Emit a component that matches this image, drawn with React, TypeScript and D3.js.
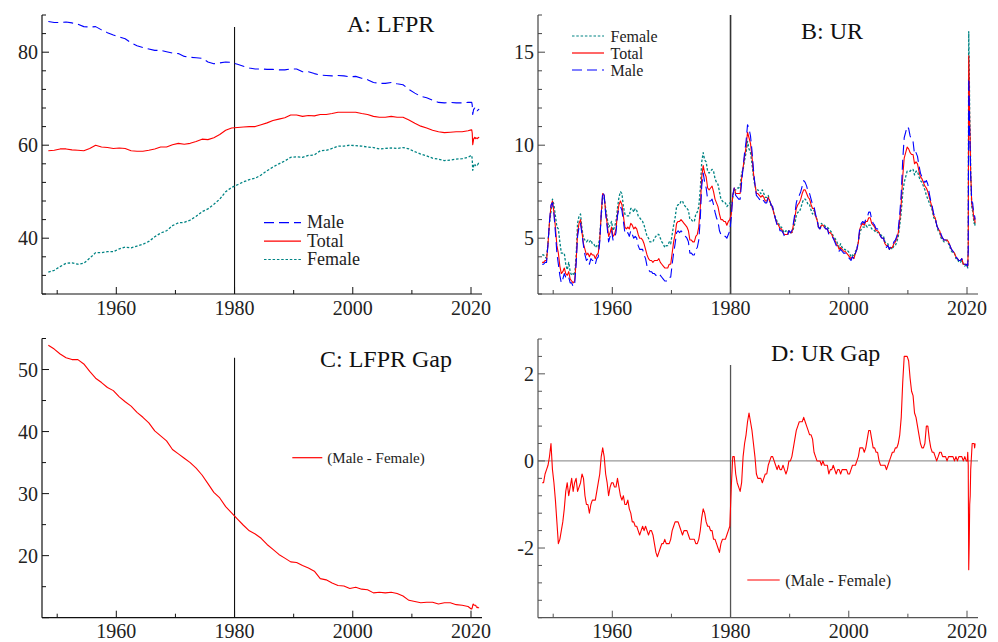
import React from 'react';
import * as d3 from 'd3';

// ---------- DATA ----------
// Unemployment rate, quarterly averages 1948Q1..2019Q4
const urTotalQ = [
  3.7,3.7,3.8,3.8, 4.7,5.9,6.7,7.0, 6.4,5.6,4.6,4.2, 3.5,3.1,3.2,3.4, 3.1,3.0,3.2,2.8,
  2.7,2.6,2.7,3.7, 5.3,5.8,6.0,5.3, 4.7,4.4,4.1,4.2, 4.0,4.2,4.1,4.1, 3.9,4.1,4.2,4.9,
  6.3,7.4,7.3,6.4, 5.8,5.1,5.3,5.6, 5.1,5.2,5.5,6.3, 6.8,7.0,6.8,6.2, 5.6,5.5,5.6,5.5,
  5.8,5.7,5.5,5.6, 5.5,5.2,5.0,5.0, 4.9,4.7,4.4,4.1, 3.9,3.8,3.8,3.7, 3.8,3.8,3.8,3.9,
  3.7,3.6,3.5,3.4, 3.4,3.4,3.6,3.6, 4.2,4.8,5.2,5.8, 5.9,5.9,6.0,5.9, 5.8,5.7,5.6,5.4,
  4.9,4.9,4.8,4.8, 5.1,5.2,5.6,6.6, 8.3,8.9,8.5,8.3, 7.7,7.6,7.7,7.8, 7.5,7.1,6.9,6.7,
  6.3,6.0,6.0,5.9, 5.9,5.7,5.9,6.0, 6.3,7.3,7.7,7.4, 7.4,7.4,7.4,8.2, 8.8,9.4,9.9,10.7,
  10.4,10.1,9.4,8.5, 7.9,7.4,7.4,7.3, 7.2,7.3,7.2,7.0, 7.0,7.2,7.0,6.8, 6.6,6.3,6.0,5.8,
  5.7,5.5,5.5,5.3, 5.2,5.2,5.2,5.4, 5.3,5.3,5.7,6.1, 6.6,6.8,6.9,7.1, 7.4,7.6,7.6,7.4,
  7.2,7.1,6.8,6.6, 6.6,6.2,6.0,5.6, 5.5,5.7,5.7,5.6, 5.5,5.5,5.3,5.3, 5.2,5.0,4.9,4.7,
  4.6,4.4,4.5,4.4, 4.3,4.3,4.2,4.1, 4.0,3.9,4.0,3.9, 4.2,4.4,4.8,5.5, 5.7,5.8,5.7,5.9,
  5.9,6.1,6.1,5.8, 5.7,5.6,5.4,5.4, 5.3,5.1,5.0,5.0, 4.7,4.6,4.6,4.4, 4.5,4.5,4.7,4.8,
  5.0,5.3,6.0,6.9, 8.3,9.3,9.6,9.9, 9.8,9.6,9.5,9.5, 9.0,9.1,9.0,8.6, 8.3,8.2,8.0,7.8,
  7.7,7.5,7.2,6.9, 6.6,6.2,6.1,5.7, 5.5,5.4,5.1,5.0, 4.9,4.9,4.9,4.8, 4.6,4.4,4.3,4.2,
  4.0,3.9,3.8,3.8, 3.9,3.6,3.6,3.6,
];
const urMaleQ = [
  3.6,3.6,3.7,3.7, 4.7,5.9,6.8,6.9, 6.3,5.3,4.2,3.6, 3.0,2.6,2.8,3.1, 2.9,2.8,2.9,2.6,
  2.6,2.4,2.5,3.6, 5.1,5.6,5.8,5.2, 4.6,4.1,3.8,3.9, 3.6,3.9,3.8,3.8, 3.6,3.9,4.0,4.8,
  6.3,7.5,7.3,6.3, 5.6,4.8,5.1,5.4, 4.9,5.0,5.3,6.2, 6.6,6.7,6.5,5.9, 5.3,5.2,5.3,5.1,
  5.4,5.2,5.0,5.1, 5.0,4.6,4.4,4.4, 4.4,4.1,3.9,3.5, 3.3,3.2,3.2,3.1, 3.1,3.0,3.0,3.1,
  3.0,2.9,2.8,2.7, 2.7,2.7,2.9,2.9, 3.6,4.2,4.7,5.3, 5.4,5.3,5.4,5.3, 5.2,5.1,5.0,4.8,
  4.2,4.2,4.1,4.1, 4.4,4.5,4.9,6.0, 7.8,8.5,8.0,7.7, 7.1,7.0,7.0,7.1, 6.8,6.4,6.1,5.9,
  5.4,5.2,5.2,5.1, 5.1,5.0,5.2,5.4, 6.1,7.3,7.7,7.3, 7.2,7.1,7.1,8.0, 8.8,9.6,10.2,11.1,
  10.9,10.5,9.7,8.7, 7.9,7.3,7.2,7.1, 7.0,7.1,7.0,6.9, 6.9,7.2,7.0,6.8, 6.7,6.3,6.0,5.7,
  5.7,5.4,5.4,5.3, 5.1,5.1,5.1,5.4, 5.3,5.4,5.8,6.3, 6.9,7.2,7.3,7.5, 7.8,8.1,8.0,7.8,
  7.5,7.4,7.1,6.8, 6.7,6.3,6.0,5.6, 5.5,5.7,5.7,5.6, 5.5,5.5,5.2,5.2, 5.1,5.0,4.8,4.6,
  4.5,4.3,4.4,4.3, 4.2,4.2,4.1,4.0, 3.9,3.8,4.0,3.9, 4.2,4.4,4.9,5.6, 5.8,5.9,5.8,6.0,
  6.1,6.4,6.4,6.0, 5.8,5.7,5.5,5.5, 5.3,5.1,5.0,5.0, 4.7,4.5,4.6,4.4, 4.6,4.6,4.8,4.9,
  5.1,5.5,6.3,7.4, 9.2,10.4,10.7,11.0, 10.9,10.5,10.3,10.2, 9.5,9.6,9.4,8.9, 8.5,8.3,8.1,8.0,
  8.1,7.9,7.4,7.0, 6.7,6.3,6.1,5.7, 5.5,5.5,5.2,5.0, 4.9,4.9,4.9,4.8, 4.6,4.4,4.3,4.2,
  4.0,3.9,3.8,3.8, 3.9,3.6,3.6,3.6,
];
const urFemaleQ = [
  4.1,4.1,4.0,3.9, 4.8,5.8,6.4,7.1, 6.8,6.2,5.6,5.5, 4.8,4.2,4.2,4.2, 3.6,3.3,3.7,3.2,
  3.0,3.1,3.0,4.0, 5.8,6.2,6.3,5.5, 5.0,4.9,4.8,4.9, 4.8,4.9,4.7,4.7, 4.5,4.6,4.5,5.1,
  6.2,7.2,7.2,6.6, 6.1,5.6,5.7,5.9, 5.4,5.6,5.9,6.6, 7.2,7.5,7.4,6.7, 6.3,6.2,6.2,6.2,
  6.6,6.6,6.4,6.6, 6.5,6.2,6.1,6.0, 5.9,5.7,5.4,5.1, 5.0,4.8,4.8,4.8, 5.0,5.1,5.2,5.2,
  5.0,4.8,4.7,4.5, 4.6,4.6,4.8,4.7, 5.2,5.7,6.1,6.7, 6.8,6.8,7.0,7.0, 6.8,6.7,6.6,6.5,
  6.0,6.0,5.9,5.9, 6.3,6.4,6.7,7.6, 9.1,9.6,9.2,9.1, 8.6,8.5,8.6,8.7, 8.6,8.2,8.0,7.9,
  7.5,7.1,7.0,6.9, 6.9,6.7,6.8,6.9, 6.7,7.2,7.6,7.6, 7.7,7.7,7.8,8.5, 8.7,9.2,9.6,10.2,
  9.8,9.6,9.0,8.3, 7.8,7.6,7.6,7.5, 7.4,7.6,7.4,7.2, 7.2,7.3,7.0,6.7, 6.6,6.3,6.1,5.9,
  5.8,5.6,5.6,5.4, 5.3,5.4,5.3,5.4, 5.3,5.3,5.5,5.8, 6.2,6.4,6.4,6.6, 6.9,7.1,7.1,7.0,
  6.8,6.8,6.5,6.3, 6.5,6.2,6.0,5.6, 5.5,5.8,5.7,5.7, 5.6,5.6,5.5,5.4, 5.3,5.1,5.0,4.9,
  4.7,4.5,4.7,4.5, 4.4,4.4,4.3,4.3, 4.2,4.0,4.1,4.0, 4.3,4.4,4.8,5.3, 5.5,5.6,5.6,5.7,
  5.6,5.7,5.7,5.5, 5.5,5.4,5.3,5.3, 5.3,5.2,5.1,5.1, 4.8,4.7,4.7,4.4, 4.5,4.4,4.6,4.6,
  4.8,5.1,5.7,6.4, 7.4,8.0,8.3,8.6, 8.6,8.6,8.7,8.7, 8.4,8.6,8.6,8.3, 8.1,8.0,7.8,7.6,
  7.3,7.1,6.9,6.7, 6.5,6.1,6.0,5.7, 5.4,5.3,5.0,4.9, 4.8,4.8,4.9,4.7, 4.5,4.3,4.2,4.2,
  3.9,3.9,3.7,3.7, 3.8,3.6,3.5,3.6,
];
// Unemployment rate, monthly Jan 2020..May 2021
const urTotalM = [3.5,3.5,4.4,14.8,13.3,11.1,10.2,8.4,7.8,6.9,6.7,6.7,6.4,6.2,6.0,6.1,5.8];
const urMaleM = [3.5,3.6,4.3,13.6,12.4,10.6,9.8,8.3,7.8,7.0,6.9,6.9,6.6,6.4,6.2,6.2,6.0];
const urFemaleM = [3.5,3.4,4.4,16.1,14.3,11.6,10.6,8.5,7.8,6.8,6.5,6.5,6.2,6.0,5.8,5.9,5.6];

// Labor force participation rate, annual averages 1948..2019
const lfprMaleA = [
  86.6,86.4,86.4,86.5,86.3,86.0,85.5,85.4,85.5,84.8,
  84.2,83.7,83.3,82.9,82.0,81.4,81.0,80.7,80.4,80.4,
  80.1,79.8,79.7,79.1,78.9,78.8,78.7,77.9,77.5,77.7,
  77.9,77.8,77.4,77.0,76.6,76.4,76.4,76.3,76.3,76.2,
  76.2,76.4,76.4,75.8,75.8,75.4,75.1,75.0,74.9,75.0,
  74.9,74.7,74.8,74.4,74.1,73.5,73.3,73.3,73.5,73.2,
  73.0,72.0,71.2,70.5,70.2,69.7,69.2,69.1,69.2,69.1,
  69.1,69.2,
];
const lfprFemaleA = [
  32.7,33.1,33.9,34.6,34.7,34.4,34.6,35.7,36.9,36.9,
  37.1,37.1,37.7,38.1,37.9,38.3,38.7,39.3,40.3,41.1,
  41.6,42.7,43.3,43.4,43.9,44.7,45.7,46.3,47.3,48.4,
  50.0,50.9,51.5,52.1,52.6,52.9,53.6,54.5,55.3,56.0,
  56.6,57.4,57.5,57.4,57.8,57.9,58.8,58.9,59.3,59.8,
  59.8,60.0,59.9,59.8,59.6,59.5,59.2,59.3,59.4,59.3,
  59.5,59.2,58.6,58.1,57.7,57.2,57.0,56.7,56.8,57.0,
  57.1,57.4,
];
const lfprTotalA = [
  58.8,58.9,59.2,59.2,59.0,58.9,58.8,59.3,60.0,59.6,
  59.5,59.3,59.4,59.3,58.8,58.7,58.7,58.9,59.2,59.6,
  59.6,60.1,60.4,60.2,60.4,60.8,61.3,61.2,61.6,62.3,
  63.2,63.7,63.8,63.9,64.0,64.0,64.4,64.8,65.3,65.6,
  65.9,66.5,66.5,66.2,66.4,66.3,66.6,66.6,66.8,67.1,
  67.1,67.1,67.1,66.8,66.6,66.2,66.0,66.0,66.2,66.0,
  66.0,65.4,64.7,64.1,63.7,63.2,62.9,62.7,62.8,62.9,
  62.9,63.1,
];
// LFPR monthly Jan 2020..May 2021
const lfprMaleM = [69.2,69.2,68.6,66.6,67.2,67.8,67.8,68.0,67.6,67.8,67.6,67.6,67.4,67.5,67.6,67.7,67.6];
const lfprFemaleM = [57.8,57.8,57.0,54.6,55.0,55.7,55.8,56.0,55.6,55.8,55.8,55.9,55.8,55.8,56.0,56.1,56.0];
const lfprTotalM = [63.3,63.3,62.6,60.1,60.7,61.4,61.5,61.7,61.4,61.6,61.5,61.5,61.4,61.5,61.6,61.7,61.6];

const startYear = 1948;
const monthlyStartYear = 2020;
const breakYear = 1980;
const xMajorTicks = [1960, 1980, 2000, 2020];
const xMinorTicks = [1950, 1970, 1990, 2010];

// ---------- derived series ----------
const urDates = urTotalQ.map((_, i) => startYear + i * 0.25 + 0.125)
  .concat(urTotalM.map((_, j) => monthlyStartYear + (j + 0.5) / 12));
const lfprDates = lfprTotalA.map((_, i) => startYear + i + 0.5)
  .concat(lfprTotalM.map((_, j) => monthlyStartYear + (j + 0.5) / 12));

const urTotal = urTotalQ.concat(urTotalM);
const urMale = urMaleQ.concat(urMaleM);
const urFemale = urFemaleQ.concat(urFemaleM);
const lfprTotal = lfprTotalA.concat(lfprTotalM);
const lfprMale = lfprMaleA.concat(lfprMaleM);
const lfprFemale = lfprFemaleA.concat(lfprFemaleM);
const lfprGap = lfprMale.map((v, i) => v - lfprFemale[i]);
const urGap = urMale.map((v, i) => v - urFemale[i]);

const zip = (dates: number[], vals: number[]) => dates.map((d, i) => [d, vals[i]] as [number, number]);

const FONT = "'Liberation Serif', 'Times New Roman', serif";
const BLUE = '#0000ff';
const RED = '#ff0000';
const TEAL = '#008484';
const MALE_DASH = '10,5';
const FEMALE_DASH = '2.5,1.8';

type Line = { data: [number, number][]; color: string; dash?: string; width?: number };
type PanelCfg = {
  x0: number; x1: number; yTop: number; yBot: number;
  domain: [number, number]; minorStep: number; majorStep: number;
  labels: number[]; labelX: number; xLabelY: number;
  axisColor: string; vTop: number; vColor: string; vWidth: number;
  lines: Line[]; zeroLine?: boolean;
  title: string; titleX: number; titleY: number;
  legend: { items: { label: string; color: string; dash?: string }[]; lx0: number; lx1: number; tx: number; y0: number; dy: number; size: number };
};

const panels: PanelCfg[] = [
  {
    x0: 42, x1: 482, yTop: 15, yBot: 294, domain: [28, 88], minorStep: 4, majorStep: 20,
    labels: [40, 60, 80], labelX: 38, xLabelY: 315, axisColor: '#111', vTop: 27, vColor: '#111', vWidth: 1.1,
    lines: [
      { data: zip(lfprDates, lfprMale), color: BLUE, dash: MALE_DASH },
      { data: zip(lfprDates, lfprTotal), color: RED },
      { data: zip(lfprDates, lfprFemale), color: TEAL, dash: FEMALE_DASH, width: 1.3 },
    ],
    title: 'A: LFPR', titleX: 347, titleY: 32,
    legend: { items: [{ label: 'Male', color: BLUE, dash: MALE_DASH }, { label: 'Total', color: RED }, { label: 'Female', color: TEAL, dash: FEMALE_DASH }], lx0: 264, lx1: 301, tx: 307, y0: 222.7, dy: 18.4, size: 18 },
  },
  {
    x0: 538, x1: 978, yTop: 15, yBot: 294, domain: [2, 17], minorStep: 1, majorStep: 5,
    labels: [5, 10, 15], labelX: 534, xLabelY: 315, axisColor: '#444', vTop: 15, vColor: '#333', vWidth: 1.6,
    lines: [
      { data: zip(urDates, urFemale), color: TEAL, dash: FEMALE_DASH, width: 1.3 },
      { data: zip(urDates, urTotal), color: RED },
      { data: zip(urDates, urMale), color: BLUE, dash: MALE_DASH },
    ],
    title: 'B: UR', titleX: 801, titleY: 39,
    legend: { items: [{ label: 'Female', color: TEAL, dash: FEMALE_DASH }, { label: 'Total', color: RED }, { label: 'Male', color: BLUE, dash: MALE_DASH }], lx0: 572, lx1: 604, tx: 610.5, y0: 36, dy: 17, size: 16 },
  },
  {
    x0: 42, x1: 482, yTop: 338.5, yBot: 617.7, domain: [10, 55], minorStep: 5, majorStep: 10,
    labels: [20, 30, 40, 50], labelX: 38, xLabelY: 638, axisColor: '#111', vTop: 357.7, vColor: '#111', vWidth: 1.1,
    lines: [{ data: zip(lfprDates, lfprGap), color: RED }],
    title: 'C: LFPR Gap', titleX: 320, titleY: 366.5,
    legend: { items: [{ label: '(Male - Female)', color: RED }], lx0: 292.3, lx1: 322.3, tx: 327.3, y0: 457.7, dy: 0, size: 15 },
  },
  {
    x0: 538, x1: 978, yTop: 339, yBot: 617.7, domain: [-3.6, 2.8], minorStep: 0.4, majorStep: 2,
    labels: [-2, 0, 2], labelX: 534, xLabelY: 638, axisColor: '#555', vTop: 365, vColor: '#555', vWidth: 1.3,
    lines: [{ data: zip(urDates, urGap), color: RED }], zeroLine: true,
    title: 'D: UR Gap', titleX: 771, titleY: 360.5,
    legend: { items: [{ label: '(Male - Female)', color: RED }], lx0: 747.3, lx1: 779.7, tx: 785.3, y0: 580, dy: 0, size: 16.3 },
  },
];

function Panel({ p }: { p: PanelCfg }) {
  const x = d3.scaleLinear().domain([1947.43, 2021.86]).range([p.x0, p.x1]);
  const y = d3.scaleLinear().domain(p.domain).range([p.yBot, p.yTop]);
  const line = d3.line<[number, number]>().x(d => x(d[0])).y(d => y(d[1]));
  const n = Math.round((p.domain[1] - p.domain[0]) / p.minorStep);
  const yTicks = d3.range(0, n + 1).map(i => p.domain[0] + i * p.minorStep);
  const isMajor = (v: number) => Math.abs(v / p.majorStep - Math.round(v / p.majorStep)) < 1e-6;
  return (
    <g>
      {p.zeroLine && (
        <line x1={p.x0} x2={p.x1} y1={y(0)} y2={y(0)} stroke="#999" strokeWidth={1.3} />
      )}
      <line x1={x(breakYear)} x2={x(breakYear)} y1={p.vTop} y2={p.yBot} stroke={p.vColor} strokeWidth={p.vWidth} />
      {p.lines.map((l, i) => (
        <path key={i} d={line(l.data) || ''} fill="none" stroke={l.color} strokeWidth={l.width || 1.1}
          strokeDasharray={l.dash} strokeLinejoin="round" />
      ))}
      {/* axes */}
      <line x1={p.x0} x2={p.x0} y1={p.yTop} y2={p.yBot} stroke={p.axisColor} strokeWidth={1.2} />
      <line x1={p.x0} x2={p.x1} y1={p.yBot} y2={p.yBot} stroke={p.axisColor} strokeWidth={1.2} />
      {yTicks.map((v, i) => (
        <line key={'yt' + i} x1={p.x0} x2={p.x0 + (isMajor(v) ? 7 : 4)} y1={y(v)} y2={y(v)} stroke={p.axisColor} strokeWidth={1} />
      ))}
      {p.labels.map(v => (
        <text key={'yl' + v} x={p.labelX} y={y(v) + 7} textAnchor="end" fontFamily={FONT} fontSize={20} fill="#222">{String(v)}</text>
      ))}
      {xMajorTicks.map(t => (
        <g key={'xm' + t}>
          <line x1={x(t)} x2={x(t)} y1={p.yBot} y2={p.yBot - 7} stroke={p.axisColor} strokeWidth={1} />
          <text x={x(t)} y={p.xLabelY} textAnchor="middle" fontFamily={FONT} fontSize={20} fill="#222">{t}</text>
        </g>
      ))}
      {xMinorTicks.map(t => (
        <line key={'xn' + t} x1={x(t)} x2={x(t)} y1={p.yBot} y2={p.yBot - 4} stroke={p.axisColor} strokeWidth={1} />
      ))}
      <text x={p.titleX} y={p.titleY} fontFamily={FONT} fontSize={24} fill="#111">{p.title}</text>
      {p.legend.items.map((it, i) => (
        <g key={'lg' + i}>
          <line x1={p.legend.lx0} x2={p.legend.lx1} y1={p.legend.y0 + i * p.legend.dy} y2={p.legend.y0 + i * p.legend.dy}
            stroke={it.color} strokeWidth={1.2} strokeDasharray={it.dash} />
          <text x={p.legend.tx} y={p.legend.y0 + i * p.legend.dy + 5.5} fontFamily={FONT} fontSize={p.legend.size} fill="#222">{it.label}</text>
        </g>
      ))}
    </g>
  );
}

export default function App() {
  return (
    <svg width={998} height={642} style={{ position: 'absolute', left: 0, top: 0, background: '#fff' }}>
      <rect x={0} y={0} width={998} height={642} fill="#fff" />
      {panels.map((p, i) => <Panel key={i} p={p} />)}
    </svg>
  );
}
